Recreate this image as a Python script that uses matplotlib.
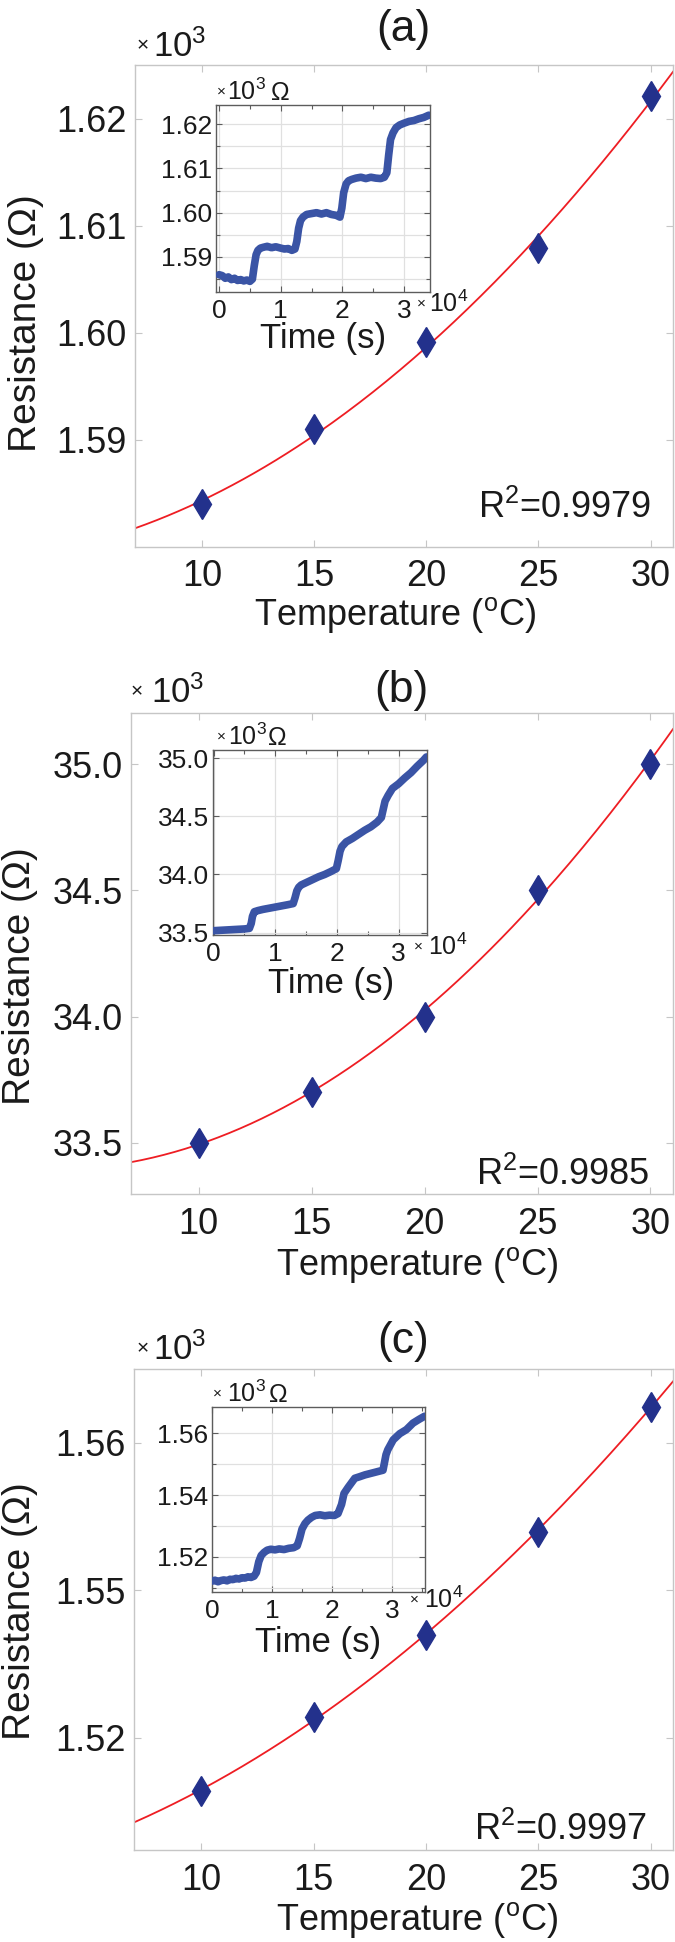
import numpy as np
import matplotlib
matplotlib.use("Agg")
import matplotlib.pyplot as plt
from matplotlib.ticker import FixedLocator, FixedFormatter, MultipleLocator

W, H = 675, 1942

# main panels: resistance (ohm) at each temperature (degC)
temps = [10, 15, 20, 25, 30]
res_a = [1584.0, 1591.0, 1599.1, 1607.9, 1622.1]
res_b = [33500.0, 33700.0, 34000.0, 34500.0, 35000.0]
res_c = [1512.8, 1522.8, 1534.0, 1547.9, 1564.9]
r2_values = ["0.9979", "0.9985", "0.9997"]

# main y ticks (x1e3 ohm) and the labels printed on them
yticks_a = [1.59, 1.60, 1.61, 1.62]
ylabels_a = ["1.59", "1.60", "1.61", "1.62"]
yticks_b = [33.5, 34.0, 34.5, 35.0]
ylabels_b = ["33.5", "34.0", "34.5", "35.0"]
yticks_c = [1.52, 1.54, 1.56]
ylabels_c = ["1.52", "1.55", "1.56"]
xticks_main = [10, 15, 20, 25, 30]

# insets: time (x1e4 s) vs resistance (x1e3 ohm)
time_a = [0.00, 0.05, 0.10, 0.15, 0.20, 0.25, 0.30, 0.35, 0.40, 0.45, 0.50, 0.54,
          0.57, 0.60, 0.63, 0.67, 0.72, 0.78, 0.85, 0.92, 1.00, 1.06, 1.12, 1.18,
          1.23, 1.26, 1.29, 1.32, 1.36, 1.42, 1.50, 1.58, 1.66, 1.74, 1.82, 1.90,
          1.96, 1.99, 2.02, 2.06, 2.10, 2.15, 2.22, 2.30, 2.38, 2.46, 2.54, 2.62,
          2.68, 2.72, 2.75, 2.78, 2.82, 2.87, 2.93, 3.00, 3.08, 3.16, 3.24, 3.32, 3.40]
inset_a = [1.5860, 1.5858, 1.5852, 1.5855, 1.5849, 1.5852, 1.5847, 1.5849, 1.5846,
           1.5848, 1.5845, 1.5850, 1.5880, 1.5905, 1.5915, 1.5920, 1.5922, 1.5924,
           1.5921, 1.5923, 1.5920, 1.5918, 1.5919, 1.5915, 1.5918, 1.5935, 1.5965,
           1.5982, 1.5990, 1.5996, 1.5998, 1.6000, 1.5997, 1.6000, 1.5996, 1.5994,
           1.5990, 1.6010, 1.6045, 1.6065, 1.6072, 1.6075, 1.6078, 1.6080, 1.6077,
           1.6080, 1.6078, 1.6077, 1.6080, 1.6090, 1.6130, 1.6165, 1.6180, 1.6192,
           1.6198, 1.6202, 1.6206, 1.6208, 1.6212, 1.6215, 1.6220]

time_b = [0.00, 0.10, 0.20, 0.30, 0.40, 0.50, 0.58, 0.61, 0.63, 0.66, 0.72, 0.80,
          0.90, 1.00, 1.10, 1.20, 1.29, 1.32, 1.35, 1.38, 1.42, 1.50, 1.60, 1.70,
          1.80, 1.90, 1.99, 2.02, 2.05, 2.08, 2.15, 2.25, 2.35, 2.45, 2.55, 2.65,
          2.72, 2.75, 2.78, 2.83, 2.90, 3.00, 3.10, 3.20, 3.30, 3.40, 3.45]
inset_b = [33.517, 33.520, 33.523, 33.526, 33.529, 33.532, 33.537, 33.58, 33.64,
           33.68, 33.69, 33.70, 33.71, 33.72, 33.73, 33.74, 33.75, 33.80, 33.86,
           33.89, 33.91, 33.93, 33.955, 33.98, 34.00, 34.025, 34.05, 34.12, 34.20,
           34.24, 34.28, 34.31, 34.345, 34.38, 34.41, 34.45, 34.49, 34.56, 34.63,
           34.68, 34.74, 34.78, 34.83, 34.875, 34.93, 34.98, 35.01]

time_c = [0.00, 0.05, 0.10, 0.15, 0.20, 0.25, 0.30, 0.35, 0.40, 0.45, 0.50, 0.55,
          0.60, 0.65, 0.70, 0.74, 0.78, 0.82, 0.87, 0.92, 0.98, 1.05, 1.12, 1.20,
          1.28, 1.36, 1.42, 1.46, 1.50, 1.55, 1.60, 1.66, 1.72, 1.80, 1.88, 1.96,
          2.04, 2.10, 2.16, 2.20, 2.27, 2.38, 2.46, 2.55, 2.65, 2.77, 2.85, 2.90,
          2.93, 3.02, 3.13, 3.24, 3.35, 3.45, 3.54]
inset_c = [1.5122, 1.5125, 1.5120, 1.5124, 1.5126, 1.5123, 1.5128, 1.5127, 1.5131,
           1.5129, 1.5133, 1.5132, 1.5136, 1.5134, 1.5138, 1.5150, 1.5185, 1.5205,
           1.5215, 1.5222, 1.5225, 1.5223, 1.5226, 1.5224, 1.5228, 1.5230, 1.5236,
           1.5260, 1.5290, 1.5308, 1.5319, 1.5328, 1.5334, 1.5336, 1.5333, 1.5335,
           1.5334, 1.5340, 1.5370, 1.5405, 1.5425, 1.5454, 1.5459, 1.5465, 1.5470,
           1.5476, 1.5480, 1.5530, 1.5546, 1.5578, 1.5598, 1.5611, 1.5632, 1.5644,
           1.5654]

inset_yticks_a = [1.59, 1.60, 1.61, 1.62]
inset_yticks_b = [33.5, 34.0, 34.5, 35.0]
inset_yticks_c = [1.52, 1.54, 1.56]
inset_xticks = [0, 1, 2, 3]

plt.rcParams["font.family"] = ["Liberation Sans", "DejaVu Sans"]
plt.rcParams["mathtext.fontset"] = "custom"
plt.rcParams["mathtext.rm"] = "Liberation Sans"
plt.rcParams["mathtext.it"] = "Liberation Sans:italic"
plt.rcParams["mathtext.bf"] = "Liberation Sans:bold"

MAIN_EDGE = "#c6c6c6"
INSET_EDGE = "#5c5c5c"
GRID = "#e0e0e0"
DIAMOND = "#23318c"
TRACE = "#3a54a5"
FIT = "#ee1d23"
TEXT = "#1a1a1a"


def fx(px):
    return px / W


def fy(py):
    return 1 - py / H


def box(x0, y0, x1, y1):
    return [x0 / W, 1 - y1 / H, (x1 - x0) / W, (y1 - y0) / H]


def times_ten(fig, x_cross, x_ten, base, power, size, cross_size):
    # small "x" then 10^n, the way MATLAB prints an axis exponent
    fig.text(fx(x_cross), fy(base - size * 0.22), "\u00d7", fontsize=cross_size,
             ha="left", va="baseline", color=TEXT)
    fig.text(fx(x_ten), fy(base), "10$^{%d}$" % power, fontsize=size,
             ha="left", va="baseline", color=TEXT)


# pixel layout of each panel
LAYOUT = [
    dict(name="(a)", main=(135, 65, 673, 547), ylim=(1.580, 1.625),
         inset=(216, 105, 430, 292), iylim=(1.5821, 1.6243), ixlim=(-0.05, 3.42),
         iminor=0.005, title=(403, 29), exp=(137, 153, 57),
         iexp=(217, 227, 271, 100), texp=(417, 429, 312),
         xlabel=(395, 625), ylabel=(26, 323), tlabel=(323, 348), r2=(651, 518)),
    dict(name="(b)", main=(131, 713, 673, 1194), ylim=(33.298, 35.202),
         inset=(213, 750, 427, 935), iylim=(33.48, 35.07), ixlim=(-0.01, 3.46),
         iminor=None, title=(401, 690), exp=(131, 151, 703),
         iexp=(217, 228, 268, 745), texp=(414, 428, 955),
         xlabel=(417, 1275), ylabel=(20, 976), tlabel=(331, 993), r2=(650, 1185)),
    dict(name="(c)", main=(134, 1369, 673, 1850), ylim=(1.5048, 1.570),
         inset=(212, 1407, 425, 1592), iylim=(1.5087, 1.5684), ixlim=(0.0, 3.55),
         iminor=0.01, title=(403, 1341), exp=(137, 153, 1360),
         iexp=(213, 227, 269, 1402), texp=(410, 424, 1608),
         xlabel=(417, 1930), ylabel=(20, 1611), tlabel=(318, 1652), r2=(647, 1840)),
]

PANELS = [
    (res_a, yticks_a, ylabels_a, r2_values[0], time_a, inset_a, inset_yticks_a, "%.2f"),
    (res_b, yticks_b, ylabels_b, r2_values[1], time_b, inset_b, inset_yticks_b, "%.1f"),
    (res_c, yticks_c, ylabels_c, r2_values[2], time_c, inset_c, inset_yticks_c, "%.2f"),
]

fig = plt.figure(figsize=(W / 100, H / 100), dpi=100)

for lay, (res, yt, yl, r2, t_ins, r_ins, iyt, ifmt) in zip(LAYOUT, PANELS):
    ax = fig.add_axes(box(*lay["main"]))
    r_k = np.asarray(res) / 1000.0
    coef = np.polyfit(temps, r_k, 2)
    xs = np.linspace(7, 31, 200)
    ax.plot(xs, np.polyval(coef, xs), color=FIT, lw=1.3, zorder=2)
    ax.plot(temps, r_k, linestyle="none", marker="d", ms=15, color=DIAMOND,
            mec=DIAMOND, zorder=3)
    ax.set_xlim(7, 31)
    ax.set_ylim(*lay["ylim"])
    ax.xaxis.set_major_locator(FixedLocator(xticks_main))
    ax.yaxis.set_major_locator(FixedLocator(yt))
    ax.yaxis.set_major_formatter(FixedFormatter(yl))
    for s in ax.spines.values():
        s.set_color(MAIN_EDGE)
        s.set_linewidth(1.0)
    ax.tick_params(direction="in", length=5, width=0.8, color=MAIN_EDGE,
                   top=True, right=True, labelsize=26, labelcolor=TEXT)
    ax.tick_params(axis="x", pad=9)
    ax.tick_params(axis="y", pad=6)

    ax.set_xlabel("Temperature ($^{\\rm o}$C)", fontsize=26, color=TEXT, va="baseline")
    ax.xaxis.set_label_coords(fx(lay["xlabel"][0]), fy(lay["xlabel"][1]),
                              transform=fig.transFigure)
    ax.set_ylabel("Resistance (\u03a9)", fontsize=28, color=TEXT, va="center")
    ax.yaxis.set_label_coords(fx(lay["ylabel"][0]), fy(lay["ylabel"][1]),
                              transform=fig.transFigure)

    fig.text(fx(lay["r2"][0]), fy(lay["r2"][1]), "R$^2$=" + r2, fontsize=26,
             ha="right", va="baseline", color=TEXT)
    fig.text(fx(lay["title"][0]), fy(lay["title"][1]), lay["name"], fontsize=32,
             ha="center", va="center", color=TEXT)
    ex = lay["exp"]
    times_ten(fig, ex[0], ex[1], ex[2], 3, 25, 15)

    # inset: resistance over time
    ins = fig.add_axes(box(*lay["inset"]))
    ins.plot(t_ins, r_ins, color=TRACE, lw=5.5, solid_capstyle="round",
             solid_joinstyle="round", zorder=3)
    ins.set_xlim(*lay["ixlim"])
    ins.set_ylim(*lay["iylim"])
    ins.xaxis.set_major_locator(FixedLocator(inset_xticks))
    ins.xaxis.set_minor_locator(MultipleLocator(0.5))
    ins.yaxis.set_major_locator(FixedLocator(iyt))
    ins.yaxis.set_major_formatter(FixedFormatter([ifmt % v for v in iyt]))
    if lay["iminor"]:
        ins.yaxis.set_minor_locator(MultipleLocator(lay["iminor"]))
        ins.grid(True, axis="y", which="both", color=GRID, lw=0.9)
    else:
        ins.grid(True, axis="y", which="major", color=GRID, lw=0.9)
    ins.grid(True, axis="x", which="major", color=GRID, lw=0.9)
    ins.set_axisbelow(True)
    for s in ins.spines.values():
        s.set_color(INSET_EDGE)
        s.set_linewidth(1.0)
    ins.tick_params(which="both", direction="in", width=0.8, color=INSET_EDGE,
                    top=True, right=True, labelsize=19, labelcolor=TEXT)
    ins.tick_params(which="major", length=4)
    ins.tick_params(which="minor", length=3)
    ins.tick_params(axis="x", pad=5)
    ins.tick_params(axis="y", pad=3)

    fig.text(fx(lay["tlabel"][0]), fy(lay["tlabel"][1]), "Time (s)", fontsize=25,
             ha="center", va="baseline", color=TEXT)
    ie = lay["iexp"]
    times_ten(fig, ie[0], ie[1], ie[3], 3, 18, 11)
    fig.text(fx(ie[2]), fy(ie[3]), "\u03a9", fontsize=18, ha="left",
             va="baseline", color=TEXT)
    te = lay["texp"]
    times_ten(fig, te[0], te[1], te[2], 4, 18, 11)

fig.savefig("out.png", dpi=100, facecolor="white")
